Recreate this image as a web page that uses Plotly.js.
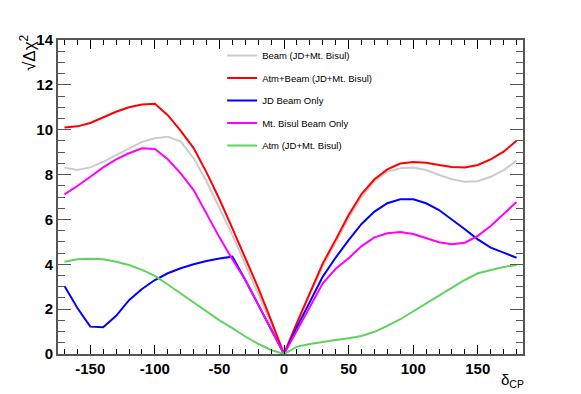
<!DOCTYPE html>
<html>
<head>
<meta charset="utf-8">
<script src="https://cdn.plot.ly/plotly-3.0.1.min.js"></script>
<style>
  html, body { margin: 0; padding: 0; background: #fff; }
  #chart { width: 581px; height: 394px; }
</style>
</head>
<body>
<div id="chart"></div>
<script>
// delta_CP scan points (deg)
const deltaCP = [-170, -160, -150, -140, -130, -120, -110, -100, -90, -80, -70, -60, -50, -40, -30, -20, -10, 0,
                 10, 20, 30, 40, 50, 60, 70, 80, 90, 100, 110, 120, 130, 140, 150, 160, 170, 180];

// sqrt(delta chi^2) for each configuration
const beamBoth = [8.31, 8.2, 8.32, 8.57, 8.87, 9.17, 9.45, 9.62, 9.69, 9.47, 8.72, 7.7, 6.5, 5.3, 4.0, 2.7, 1.35, 0,
                  1.35, 2.65, 3.9, 5.0, 6.05, 7.0, 7.71, 8.13, 8.28, 8.31, 8.2, 7.98, 7.79, 7.68, 7.7, 7.9, 8.2, 8.62];
const atmBeam = [10.1, 10.15, 10.3, 10.55, 10.8, 11.0, 11.12, 11.16, 10.65, 9.95, 9.18, 8.1, 6.9, 5.6, 4.3, 2.95, 1.5, 0,
                 1.4, 2.75, 4.04, 5.1, 6.2, 7.13, 7.79, 8.23, 8.49, 8.56, 8.53, 8.43, 8.34, 8.32, 8.43, 8.68, 9.02, 9.51];
const jdBeam = [3.03, 2.05, 1.22, 1.19, 1.7, 2.4, 2.9, 3.3, 3.6, 3.82, 4.0, 4.15, 4.26, 4.34, 3.3, 2.2, 1.1, 0,
                1.2, 2.3, 3.45, 4.3, 5.08, 5.8, 6.35, 6.72, 6.9, 6.9, 6.72, 6.42, 6.0, 5.56, 5.11, 4.74, 4.52, 4.29];
const bisulBeam = [7.12, 7.49, 7.9, 8.32, 8.68, 8.95, 9.17, 9.14, 8.68, 8.05, 7.31, 6.25, 5.2, 4.22, 3.3, 2.2, 1.1, 0,
                   1.05, 2.1, 3.15, 3.8, 4.27, 4.81, 5.2, 5.38, 5.44, 5.35, 5.16, 4.98, 4.89, 4.96, 5.27, 5.71, 6.24, 6.78];
const atmBoth = [4.11, 4.22, 4.25, 4.22, 4.11, 3.97, 3.75, 3.48, 3.1, 2.7, 2.3, 1.9, 1.5, 1.15, 0.78, 0.45, 0.18, 0,
                 0.33, 0.45, 0.55, 0.62, 0.7, 0.8, 0.99, 1.25, 1.55, 1.89, 2.23, 2.6, 2.96, 3.3, 3.6, 3.75, 3.88, 3.97];

const xTickVals = [-150, -100, -50, 0, 50, 100, 150];
const xTickText = ['-150', '-100', '-50', '0', '50', '100', '150'];

const seriesNames = ['Beam (JD+Mt. Bisul)', 'Atm+Beam (JD+Mt. Bisul)', 'JD Beam Only', 'Mt. Bisul Beam Only', 'Atm (JD+Mt. Bisul)'];
const seriesData = [beamBoth, atmBeam, jdBeam, bisulBeam, atmBoth];
const seriesColors = ['#cccccc', '#ff0000', '#0000ff', '#ff00ff', '#5fd35f'];

const traces = seriesData.map((ys, i) => ({
    x: deltaCP,
    y: ys,
    type: 'scatter',
    mode: 'lines',
    name: seriesNames[i],
    legendgroup: 'g' + i,
    line: { color: seriesColors[i], width: 2 }
}));

const axisFont = { family: 'Liberation Sans, Arial, sans-serif', size: 15, color: '#000', weight: 'bold' };

const layout = {
    width: 581,
    height: 394,
    margin: { l: 58, r: 58, t: 40, b: 40 },
    paper_bgcolor: '#fff',
    plot_bgcolor: '#fff',
    showlegend: true,
    legend: {
        x: 0.353, y: 0.997, xanchor: 'left', yanchor: 'top',
        bgcolor: 'rgba(0,0,0,0)',
        itemwidth: 30,
        traceorder: 'grouped',
        tracegroupgap: 3.5,
        font: { family: 'Liberation Sans, Arial, sans-serif', size: 9.5, color: '#000' }
    },
    xaxis: {
        range: [-175, 185],
        tickvals: xTickVals,
        ticktext: xTickText,
        ticks: 'inside',
        ticklen: 9,
        tickcolor: '#000',
        showline: true,
        linecolor: '#555',
        linewidth: 2,
        mirror: 'ticks',
        showgrid: false,
        zeroline: false,
        tickfont: axisFont,
        minor: { dtick: 10, tick0: 0, ticks: 'inside', ticklen: 5, tickcolor: '#000', showgrid: false }
    },
    yaxis: {
        range: [0, 14],
        dtick: 2,
        ticks: 'inside',
        ticklen: 13,
        tickcolor: '#555',
        showline: true,
        linecolor: '#555',
        linewidth: 2,
        mirror: 'ticks',
        showgrid: false,
        zeroline: false,
        tickfont: axisFont,
        minor: { dtick: 0.5, ticks: 'inside', ticklen: 7, tickcolor: '#555', showgrid: false }
    },
    annotations: [
        {
            text: '√Δχ<sup>2</sup>',
            xref: 'paper', yref: 'paper',
            x: (28 - 58) / 465, y: (354 - 53) / 314,
            xanchor: 'center', yanchor: 'middle',
            textangle: -90,
            showarrow: false,
            font: { family: 'Liberation Sans, Arial, sans-serif', size: 17, color: '#000' }
        },
        {
            text: 'δ<sub>CP</sub>',
            xref: 'paper', yref: 'paper',
            x: (512 - 58) / 465, y: (354 - 380) / 314,
            xanchor: 'center', yanchor: 'middle',
            showarrow: false,
            font: { family: 'Liberation Sans, Arial, sans-serif', size: 15, color: '#000' }
        }
    ]
};

Plotly.newPlot('chart', traces, layout, { displayModeBar: false, responsive: false });
</script>
</body>
</html>
